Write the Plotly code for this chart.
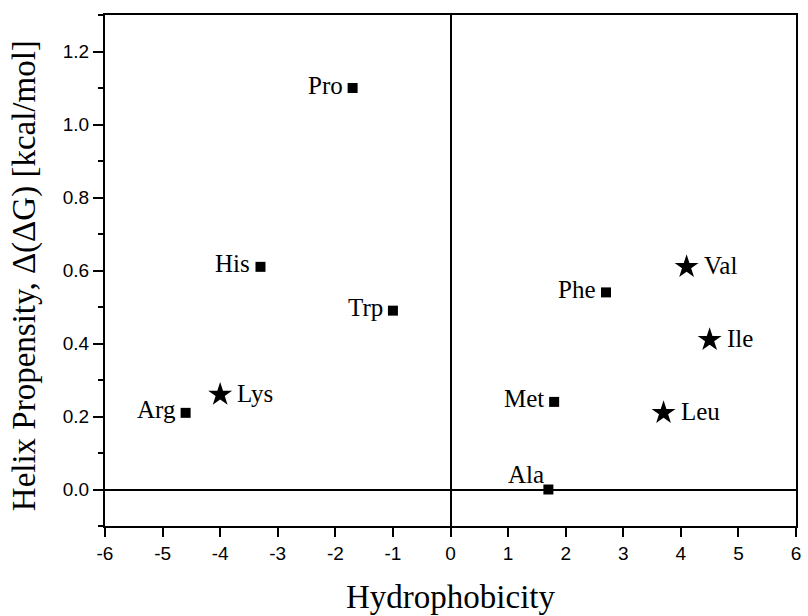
import plotly.graph_objects as go

# Amino acids: hydrophobicity vs. helix propensity
residues = ["Pro", "His", "Trp", "Arg", "Lys", "Ala", "Phe", "Val", "Ile", "Met", "Leu"]
hydrophobicity = [-1.7, -3.3, -1.0, -4.6, -4.0, 1.7, 2.7, 4.1, 4.5, 1.8, 3.7]
helix_propensity = [1.10, 0.61, 0.49, 0.21, 0.26, 0.00, 0.54, 0.61, 0.41, 0.24, 0.21]
marker_kind = ["square", "square", "square", "square", "star",
               "square", "square", "star", "star", "square", "star"]
label_side = ["left", "left", "left", "left", "right",
              "above", "left", "right", "right", "left", "right"]

x_ticks = list(range(-6, 7))
y_ticks = [0.0, 0.2, 0.4, 0.6, 0.8, 1.0, 1.2]

SERIF = "'Liberation Serif', 'Times New Roman', serif"
SANS = "'Liberation Sans', Arial, sans-serif"

fig = go.Figure()

for kind, size in (("square", 10), ("star", 18)):
    idx = [i for i, k in enumerate(marker_kind) if k == kind]
    fig.add_trace(go.Scatter(
        x=[hydrophobicity[i] for i in idx],
        y=[helix_propensity[i] for i in idx],
        mode="markers",
        marker=dict(symbol=kind, size=size, color="black", line=dict(width=0)),
        showlegend=False,
        hoverinfo="skip",
    ))

annotations = []
for name, xv, yv, side in zip(residues, hydrophobicity, helix_propensity, label_side):
    if side == "left":
        pos = dict(xanchor="right", yanchor="middle", xshift=-8, yshift=3)
    elif side == "right":
        pos = dict(xanchor="left", yanchor="middle", xshift=15, yshift=1)
    else:
        pos = dict(xanchor="right", yanchor="middle", xshift=-2, yshift=15)
    annotations.append(dict(
        x=xv, y=yv, xref="x", yref="y", text=name, showarrow=False,
        font=dict(family=SERIF, size=25, color="black"), **pos,
    ))

# axis titles
annotations.append(dict(
    x=0.5, y=(526 - 596.5) / 511, xref="paper", yref="paper",
    text="Hydrophobicity", showarrow=False, xanchor="center", yanchor="middle",
    font=dict(family=SERIF, size=33, color="black"),
))
annotations.append(dict(
    x=(24 - 105) / 696, y=0.49, xref="paper", yref="paper",
    text="Helix Propensity, Δ(ΔG) [kcal/mol]", showarrow=False, textangle=-90,
    xanchor="center", yanchor="middle",
    font=dict(family=SERIF, size=33, color="black"),
))

axis_common = dict(
    showline=True, linecolor="black", linewidth=2, mirror=True,
    showgrid=False, zeroline=True, zerolinecolor="black", zerolinewidth=2,
    ticks="outside", tickwidth=2, tickcolor="black",
    tickfont=dict(family=SANS, size=19, color="black"),
)

fig.update_layout(
    width=808, height=616,
    margin=dict(l=105, r=7, t=15, b=90),
    paper_bgcolor="white", plot_bgcolor="white",
    xaxis=dict(range=[-6, 6], tickmode="array", tickvals=x_ticks,
               ticktext=[str(v) for v in x_ticks], ticklen=9, **axis_common),
    yaxis=dict(range=[-0.1, 1.3], tickmode="array", tickvals=y_ticks,
               ticktext=[f"{v:.1f}" for v in y_ticks], ticklen=10,
               minor=dict(ticks="outside", ticklen=5, tickwidth=2,
                          tickcolor="black", dtick=0.1, tick0=0, showgrid=False),
               **axis_common),
    annotations=annotations,
)

fig.write_html("out.html")
